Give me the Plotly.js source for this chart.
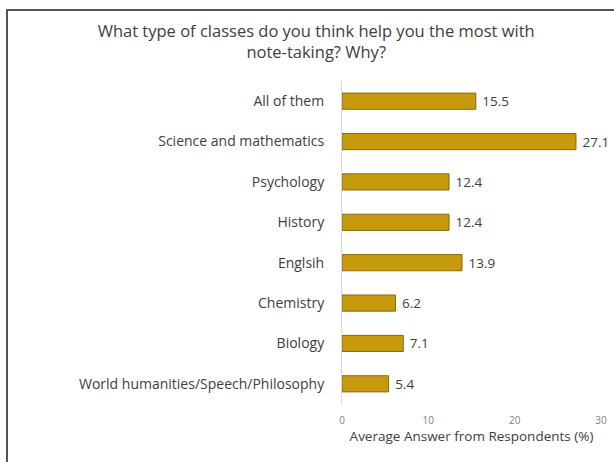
<!DOCTYPE html>
<html>
<head>
<meta charset="utf-8">
<script src="https://cdn.plot.ly/plotly-3.0.1.min.js"></script>
<style>
html,body{margin:0;padding:0;background:#fff;}
#frame{position:absolute;left:6px;top:9px;width:620px;height:470px;border-left:2px solid #555;border-top:2px solid #555;pointer-events:none;z-index:10;}
#chart{width:614px;height:462px;}
</style>
</head>
<body>
<div id="frame"></div>
<div id="chart"></div>
<script>
const categories = ["All of them","Science and mathematics","Psychology","History","Englsih","Chemistry","Biology","World humanities/Speech/Philosophy"];
const values = [15.5, 27.1, 12.4, 12.4, 13.9, 6.2, 7.1, 5.4];
const xTicks = [0, 10, 20, 30];

const FONT = "Open Sans, Lato, sans-serif";

const trace = {
  type: "bar",
  orientation: "h",
  y: categories,
  x: values,
  text: values.map(v => " " + v.toFixed(1)),
  textposition: "outside",
  constraintext: "none",
  cliponaxis: false,
  textfont: {family: FONT, size: 13.5, color: "#404040"},
  marker: {color: "#C79A0E", line: {color: "#8A6A0A", width: 1}},
  width: 0.4,
  hoverinfo: "none"
};

const layout = {
  width: 614, height: 462,
  margin: {l: 342, r: 13, t: 81, b: 58},
  paper_bgcolor: "#fff", plot_bgcolor: "#fff",
  showlegend: false,
  title: {
    text: "What type of classes do you think help you the most with<br>note-taking? Why?",
    x: 0.515, xanchor: "center", yref: "container", y: 0.92, yanchor: "top",
    font: {family: FONT, size: 16.5, color: "#404040"}
  },
  xaxis: {
    range: [0, 30], tickvals: xTicks, ticktext: xTicks.map(String),
    showgrid: false, zeroline: false, showline: false, ticks: "",
    ticklabelstandoff: 9,
    tickfont: {family: FONT, size: 10, color: "#808080"},
    title: {text: "Average Answer from Respondents (%)", standoff: 4,
      font: {family: FONT, size: 13.5, color: "#404040"}}
  },
  yaxis: {
    categoryorder: "array", categoryarray: categories.slice().reverse(),
    showgrid: false, zeroline: false, showline: true, linecolor: "#d9d9d9", linewidth: 1,
    ticks: "", ticklabelstandoff: 14,
    tickfont: {family: FONT, size: 14, color: "#404040"}
  }
};

Plotly.newPlot("chart", [trace], layout, {displayModeBar: false, staticPlot: true});
</script>
</body>
</html>
